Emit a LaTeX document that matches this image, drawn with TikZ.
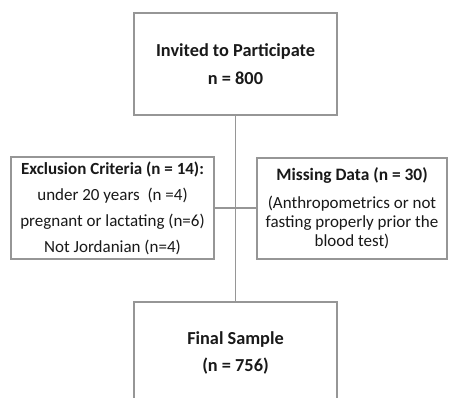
\documentclass[tikz,border=0pt]{standalone}
\usepackage{fontspec}
\setmainfont{Carlito}
\definecolor{linegray}{RGB}{150,150,150}
\definecolor{txt}{RGB}{25,25,25}
\begin{document}
\begin{tikzpicture}[x=1pt,y=1pt,
  box/.style={draw=linegray, line width=1.4pt, fill=white, inner sep=0pt, align=center, text=txt},
  conn/.style={draw=linegray, line width=1.4pt}]
\useasboundingbox (0,0) rectangle (449,398);
\clip (0,0) rectangle (449,398);
\node[box, minimum width=203pt, minimum height=102pt, font=\fontsize{18.3}{28}\selectfont\bfseries] (top) at (235.5,334)
  {Invited to Participate\\ n = 800};
\node[box, minimum width=203pt, minimum height=102pt, font=\fontsize{17}{26}\selectfont] (left) at (112.5,190)
  {\textbf{Exclusion Criteria (n = 14):}\\ under 20 years~~(n =4)\\ pregnant or lactating (n=6)\\ Not Jordanian (n=4)};
\node[box, minimum width=190pt, minimum height=101pt, font=\fontsize{17}{19}\selectfont] (right) at (352,189.5)
  {{\fontsize{17.4}{19}\selectfont\bfseries Missing Data (n = 30)}\\[9pt] (Anthropometrics or not\\ fasting properly prior the\\ blood test)};
\node[box, minimum width=203pt, minimum height=102pt, font=\fontsize{18.3}{27}\selectfont\bfseries] (bot) at (235.5,45)
  {Final Sample\\ (n = 756)};
\draw[conn] (top.south) -- (bot.north);
\draw[conn] (left.east) -- (left.east -| right.west);
\end{tikzpicture}
\end{document}
